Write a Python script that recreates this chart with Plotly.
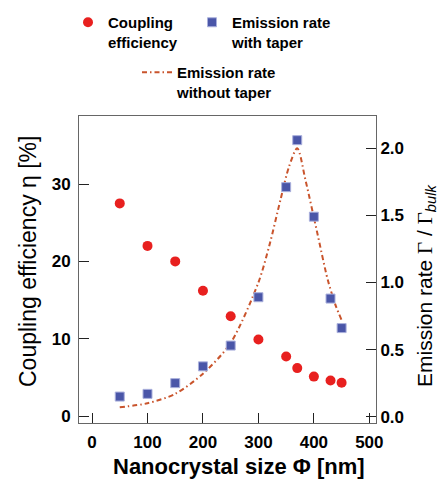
import plotly.graph_objects as go

# Data
size_nm = [50, 100, 150, 200, 250, 300, 350, 370, 400, 430, 450]
coupling_eff = [27.5, 22.0, 20.0, 16.2, 12.9, 9.9, 7.7, 6.2, 5.1, 4.6, 4.3]
rate_taper = [0.15, 0.17, 0.25, 0.375, 0.53, 0.89, 1.71, 2.06, 1.49, 0.88, 0.66]

notaper_x = [50, 100, 150, 200, 250, 300, 320, 340, 355, 370, 385, 405, 425, 440, 450]
notaper_y = [0.07, 0.10, 0.17, 0.32, 0.55, 1.0, 1.28, 1.62, 1.86, 2.0, 1.76, 1.39, 1.02, 0.82, 0.72]

x_ticks = [0, 100, 200, 300, 400, 500]
y1_ticks = [0, 10, 20, 30]
y2_ticks = [0.0, 0.5, 1.0, 1.5, 2.0]
y2_labels = ["0.0", "0.5", "1.0", "1.5", "2.0"]

RED = "#e8201f"
BLUE = "#4a56a8"
ORANGE = "#c9542c"
FONT = "Liberation Sans, Arial, sans-serif"

fig = go.Figure()
fig.add_trace(go.Scatter(
    x=notaper_x, y=notaper_y, yaxis="y2", mode="lines",
    line=dict(color=ORANGE, width=2, dash="5px,3px,1.5px,3px", shape="spline", smoothing=0.8),
    name="<b>Emission rate<br>without taper</b>", legend="legend3"))
fig.add_trace(go.Scatter(
    x=size_nm, y=coupling_eff, mode="markers",
    marker=dict(color=RED, size=10, symbol="circle", line=dict(width=0)),
    name="<b>Coupling<br>efficiency</b>", legend="legend"))
fig.add_trace(go.Scatter(
    x=size_nm, y=rate_taper, yaxis="y2", mode="markers",
    marker=dict(color=BLUE, size=9, symbol="square", line=dict(width=1, color="#aab0dc")),
    name="<b>Emission rate<br>with taper</b>", legend="legend2"))

W, H = 440, 479
L, R, T, B = 79, 64, 116, 56
pw, ph = W - L - R, H - T - B

def px(xp):
    return (xp - L) / pw

def py(yp):
    return (H - B - yp) / ph

legend_common = dict(font=dict(family=FONT, size=15, color="black"),
                     bgcolor="rgba(0,0,0,0)", borderwidth=0, valign="top",
                     xanchor="left", yanchor="top", itemwidth=30, tracegroupgap=0)

fig.update_layout(
    width=W, height=H,
    margin=dict(l=L, r=R, t=T, b=B, autoexpand=False),
    paper_bgcolor="white", plot_bgcolor="white",
    font=dict(family=FONT, color="black"),
    showlegend=True,
    legend=dict(x=px(68), y=py(6), **legend_common),
    legend2=dict(x=px(192), y=py(6), **legend_common),
    legend3=dict(x=px(137), y=py(56), **legend_common),
    xaxis=dict(
        range=[-23.5, 512], tickvals=x_ticks, ticks="inside", ticklen=10,
        tickcolor="#222", showline=True, linecolor="#666", linewidth=1, mirror=True,
        showgrid=False, zeroline=False, ticklabelstandoff=4,
        tickfont=dict(family=FONT, size=17, color="black", weight="bold"),
    ),
    yaxis=dict(
        range=[-0.9, 38.8], tickvals=y1_ticks, ticks="inside", ticklen=10,
        tickcolor="#222", showline=True, linecolor="#666", linewidth=1,
        showgrid=False, zeroline=False, ticklabelstandoff=4,
        tickfont=dict(family=FONT, size=17, color="black", weight="bold"),
    ),
    yaxis2=dict(
        range=[-0.047, 2.24], tickvals=y2_ticks, ticktext=y2_labels, overlaying="y",
        side="right", ticks="inside", ticklen=10, tickcolor="#222",
        showline=True, linecolor="#666", linewidth=1,
        showgrid=False, zeroline=False,
        tickfont=dict(family=FONT, size=17, color="black", weight="bold"),
    ),
    annotations=[
        dict(text="<b>Nanocrystal size Φ [nm]</b>", xref="paper", yref="paper",
             x=px(239), y=py(466), xanchor="center", yanchor="middle", showarrow=False,
             font=dict(family=FONT, size=22, color="black")),
        dict(text="Coupling efficiency η [%]", xref="paper", yref="paper",
             x=px(28), y=py(262), xanchor="center", yanchor="middle", showarrow=False,
             textangle=-90, font=dict(family=FONT, size=23, color="black")),
        dict(text="Emission rate <span style=\"font-family:Liberation Serif\">Γ</span> / "
                  "<span style=\"font-family:Liberation Serif\">Γ</span><sub><i>bulk</i></sub>",
             xref="paper", yref="paper",
             x=px(426), y=py(286), xanchor="center", yanchor="middle", showarrow=False,
             textangle=-90, font=dict(family=FONT, size=21, color="black")),
    ],
)

fig.write_html("out.html", config={"displayModeBar": False},
               post_script="document.body.style.margin='0px';document.body.style.overflow='hidden';")
